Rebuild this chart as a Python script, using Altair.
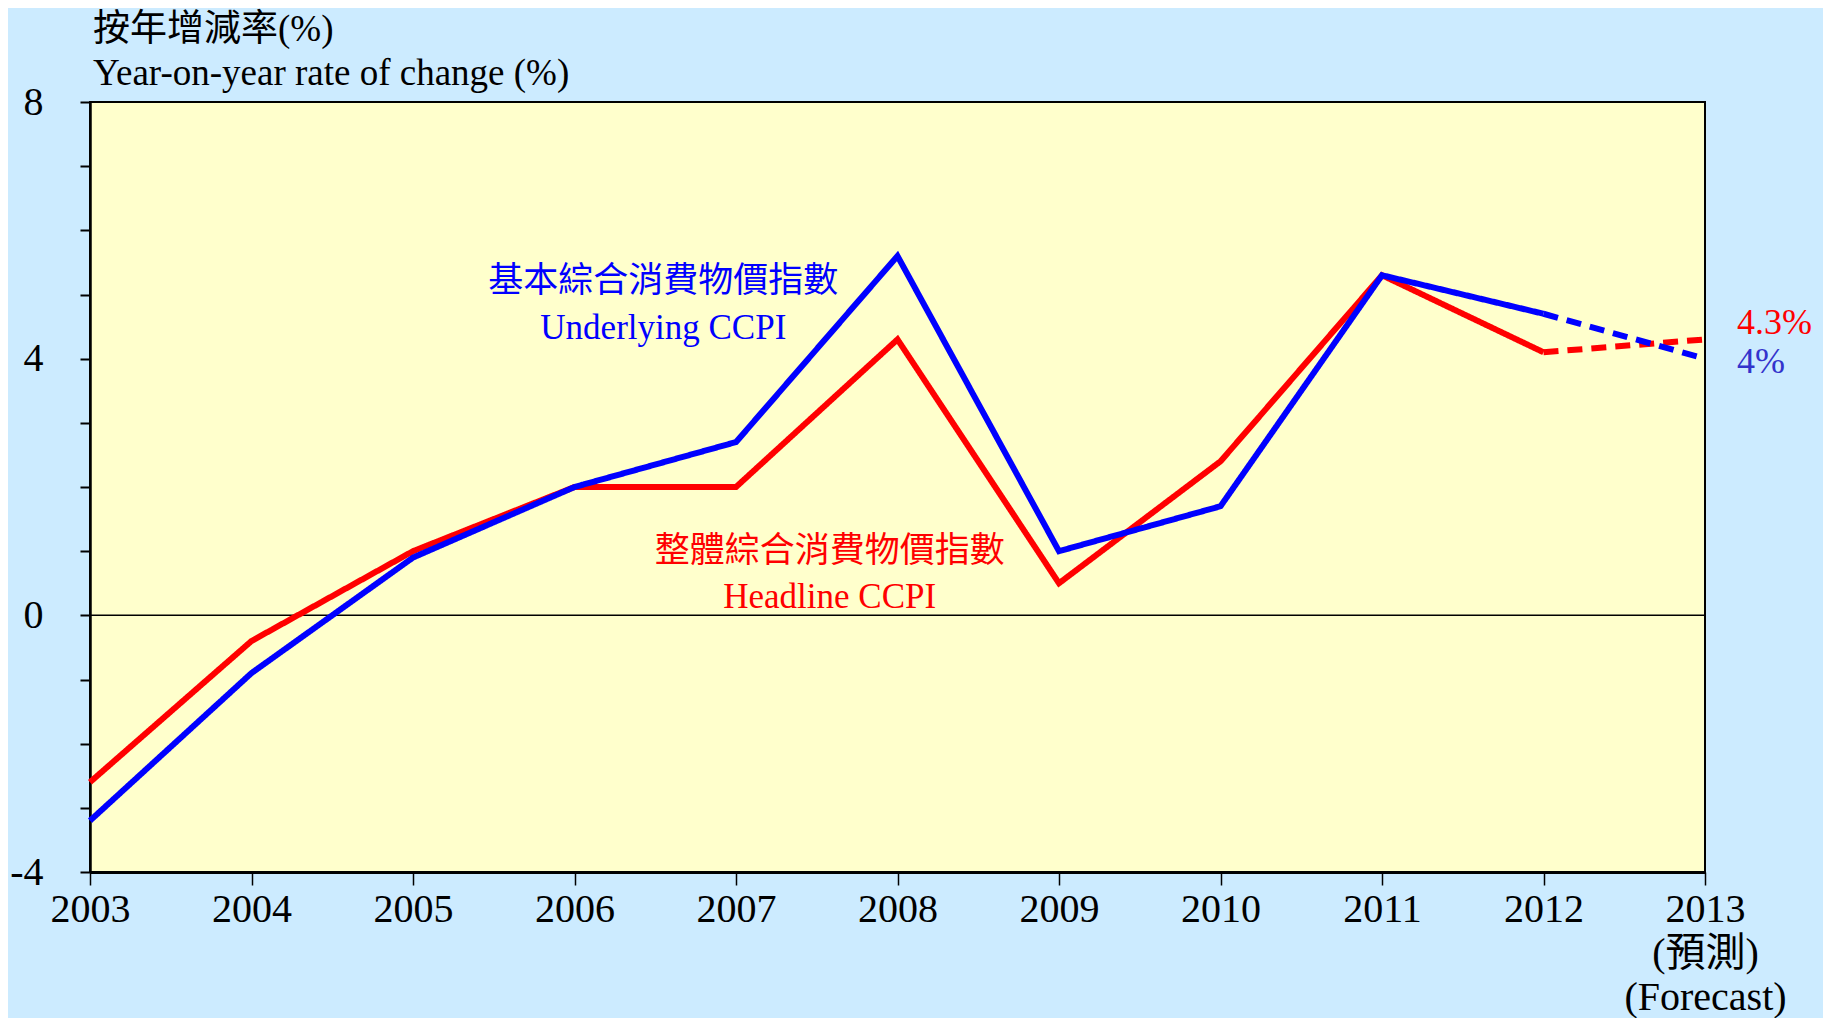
import altair as alt
import pandas as pd

years = list(range(2003, 2014))
headline = [-2.6, -0.4, 1.0, 2.0, 2.0, 4.3, 0.5, 2.4, 5.3, 4.1, 4.3]
underlying = [-3.2, -0.9, 0.9, 2.0, 2.7, 5.6, 1.0, 1.7, 5.3, 4.7, 4.0]
series_names = ["Headline", "Underlying"]
series_colors = ["#FF0000", "#0000FF"]
x_ticks = years
y_ticks = list(range(-4, 9))

title_lines = ["按年增減率(%)", "Year-on-year rate of change (%)"]

ann_text = ["基本綜合消費物價指數", "Underlying CCPI", "整體綜合消費物價指數", "Headline CCPI"]
ann_x = [2006.55, 2006.55, 2007.58, 2007.58]
ann_y = [5.21, 4.48, 1.01, 0.28]
ann_color = ["#0000FF", "#0000FF", "#FF0000", "#FF0000"]

end_text = ["4.3%", "4%"]
end_x = [2013, 2013]
end_y = [4.55, 3.95]
end_color = ["#FF0000", "#3333CC"]

FONT = "Liberation Serif, 'Noto Sans CJK TC'"

rows = []
for name, vals in zip(series_names, [headline, underlying]):
    for yr, v in zip(years, vals):
        if yr <= 2012:
            rows.append({"year": yr, "value": v, "series": name, "seg": "actual"})
        if yr >= 2012:
            rows.append({"year": yr, "value": v, "series": name, "seg": "forecast"})
df = pd.DataFrame(rows)

xscale = alt.Scale(domain=[2003, 2013], nice=False, zero=False)
yscale = alt.Scale(domain=[-4, 8], nice=False, zero=False)

x_axis = alt.Axis(
    values=x_ticks, format="d", grid=False, title=None,
    labelExpr="datum.value == 2013 ? ['2013', '(預測)', '(Forecast)'] : datum.label",
    labelLineHeight=44, labelFontSize=40, labelFont=FONT, labelColor="black",
    labelFlush=False, labelOverlap=False, labelPadding=4,
    tickSize=13, tickColor="black", tickWidth=1.5,
    domainColor="black", domainWidth=3,
)
y_axis = alt.Axis(
    values=y_ticks, grid=False, title=None,
    labelExpr="datum.value % 4 == 0 ? toString(datum.value) : ''",
    labelFontSize=40, labelFont=FONT, labelColor="black",
    labelFlush=False, labelOverlap=False, labelPadding=37,
    tickSize=10, tickColor="black", tickWidth=2,
    domainColor="black", domainWidth=2.5,
)

zero = alt.Chart(pd.DataFrame({"y": [0]})).mark_rule(color="black", strokeWidth=1.5).encode(
    y=alt.Y("y:Q", scale=yscale, axis=y_axis)
)

lines = []
for name, col in zip(series_names, series_colors):
    lines.append(
        alt.Chart(df[df.series == name]).mark_line(strokeWidth=6, color=col, strokeCap="butt").encode(
            x=alt.X("year:Q", scale=xscale, axis=x_axis),
            y=alt.Y("value:Q", scale=yscale, axis=y_axis),
            strokeDash=alt.StrokeDash(
                "seg:N",
                scale=alt.Scale(domain=["actual", "forecast"], range=[[1, 0], [15, 9]]),
                legend=None,
            ),
        )
    )

ann_df = pd.DataFrame({"text": ann_text, "x": ann_x, "y": ann_y, "c": ann_color})
ann = alt.Chart(ann_df).mark_text(fontSize=35, font=FONT, align="center", baseline="middle").encode(
    x=alt.X("x:Q", scale=xscale), y=alt.Y("y:Q", scale=yscale),
    text="text:N", color=alt.Color("c:N", scale=None),
)

end_df = pd.DataFrame({"text": end_text, "x": end_x, "y": end_y, "c": end_color})
ends = alt.Chart(end_df).mark_text(fontSize=36, font=FONT, align="left", baseline="middle", dx=32, clip=False).encode(
    x=alt.X("x:Q", scale=xscale), y=alt.Y("y:Q", scale=yscale),
    text="text:N", color=alt.Color("c:N", scale=None),
)

chart = alt.layer(zero, *lines, ann, ends).properties(
    width=1615, height=770,
    title=alt.TitleParams(
        text=title_lines, anchor="start", frame="group", fontSize=37, font=FONT,
        fontWeight="normal", color="black", lineHeight=44, offset=-11, dx=3,
    ),
    padding={"left": 82, "top": 94, "right": 118, "bottom": 146},
    autosize=alt.AutoSizeParams(type="none"),
    background="#CCEBFF",
).configure_view(
    fill="#FFFFCC", stroke="black", strokeWidth=2
)

chart.save("out.html", embed_options={"renderer": "svg", "actions": False})
